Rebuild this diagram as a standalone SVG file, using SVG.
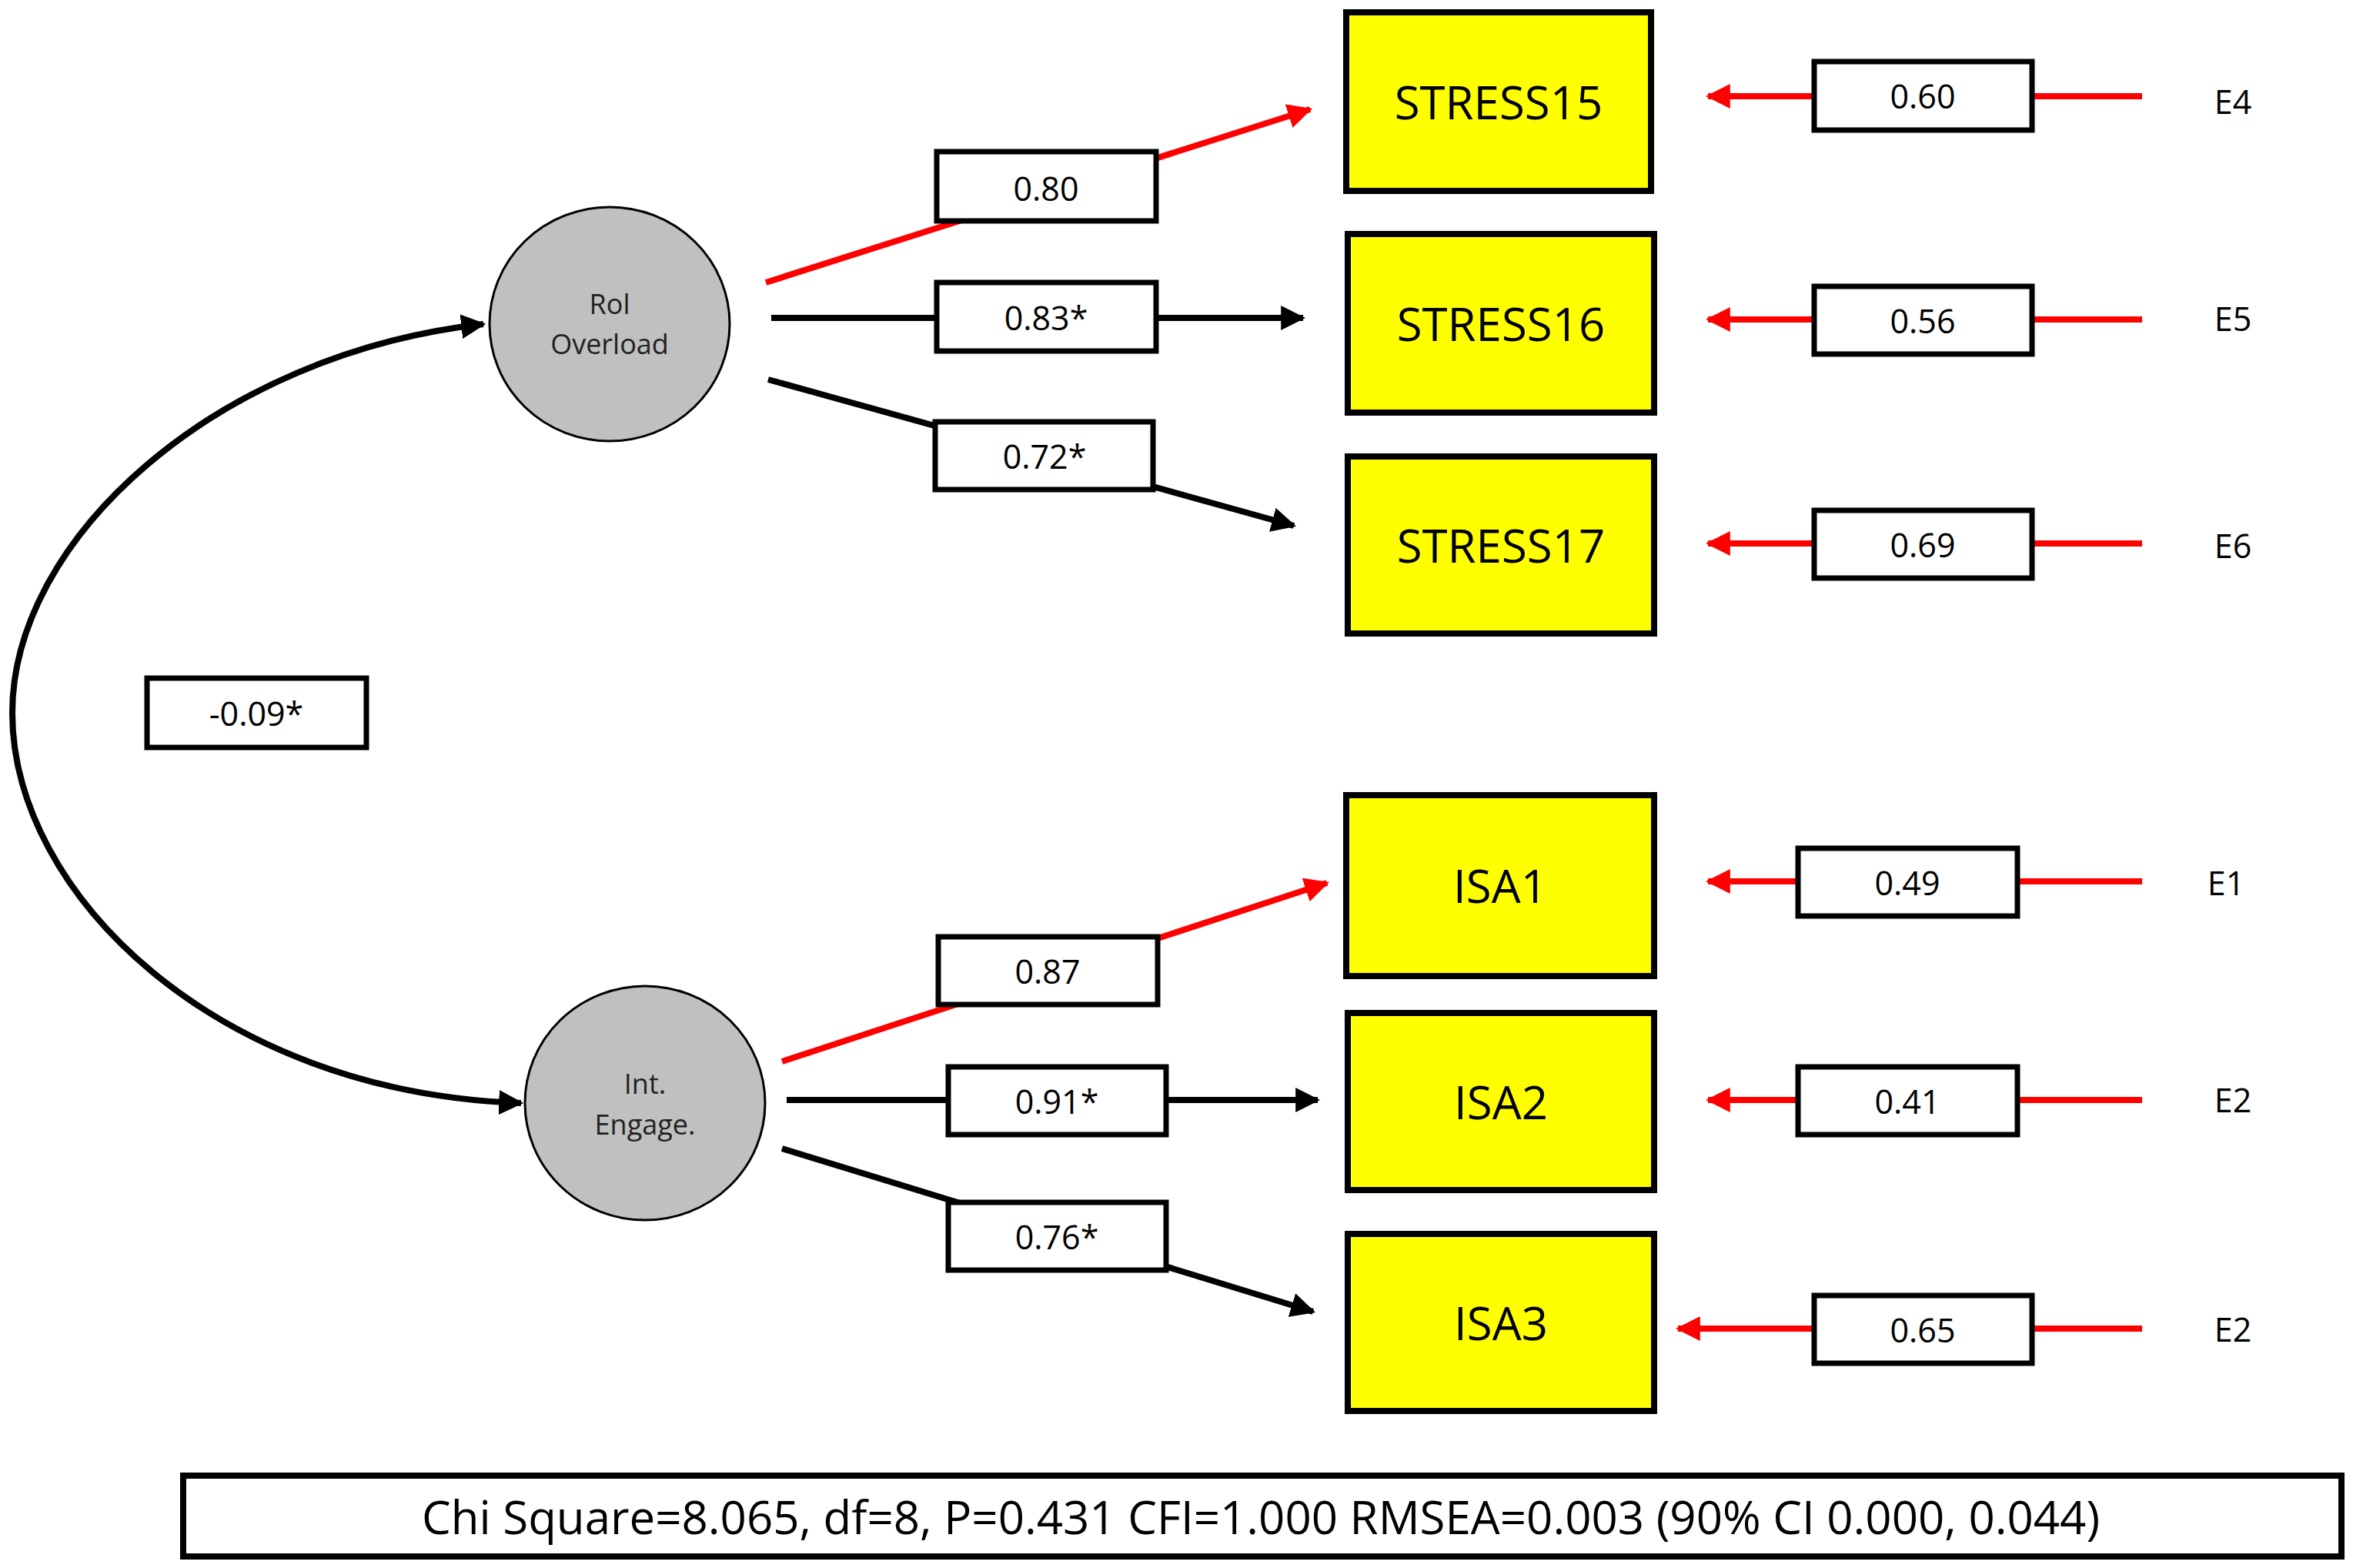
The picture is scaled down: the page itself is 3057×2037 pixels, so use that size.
<svg xmlns="http://www.w3.org/2000/svg" width="3057" height="2037" viewBox="0 0 3057 2037">
<style>
text{font-family:"Open Sans","Liberation Sans",sans-serif;text-anchor:middle;dominant-baseline:central;fill:#000}
.ind rect{fill:#ffff00;stroke:#000;stroke-width:8}
.ind text{font-size:60px}
.lat ellipse{fill:#c0c0c0;stroke:#000;stroke-width:3}
.lat text{font-size:36px;fill:#222}
.lbl rect{fill:#fff;stroke:#000;stroke-width:7}
.lbl text{font-size:43px}
.e text{font-size:43px}
.k{stroke:#000;stroke-width:8;fill:none}
.r{stroke:#ff0000;stroke-width:8;fill:none}
</style>
<defs>
<marker id="ak" viewBox="0 0 10 10" refX="9" refY="5" markerWidth="4" markerHeight="4" orient="auto-start-reverse" markerUnits="strokeWidth"><path d="M0,0L10,5L0,10z" fill="#000"/></marker>
<marker id="ar" viewBox="0 0 10 10" refX="9" refY="5" markerWidth="4" markerHeight="4" orient="auto" markerUnits="strokeWidth"><path d="M0,0L10,5L0,10z" fill="#ff0000"/></marker>
</defs>
<rect width="3057" height="2037" fill="#fff"/>
<g id="connectors">
<path class="k" d="M628,421 C280,460 16,700 16,926 C16,1160 280,1420 677,1433" marker-start="url(#ak)" marker-end="url(#ak)"/>
<line class="r" x1="995" y1="367" x2="1702" y2="142" marker-end="url(#ar)"/>
<line class="k" x1="1002" y1="413" x2="1693" y2="413" marker-end="url(#ak)"/>
<line class="k" x1="998" y1="493" x2="1681" y2="683" marker-end="url(#ak)"/>
<line class="r" x1="1016" y1="1379" x2="1724" y2="1147" marker-end="url(#ar)"/>
<line class="k" x1="1022" y1="1429" x2="1712" y2="1429" marker-end="url(#ak)"/>
<line class="k" x1="1016" y1="1492" x2="1706" y2="1704" marker-end="url(#ak)"/>
<line class="r" x1="2783" y1="125" x2="2219" y2="125" marker-end="url(#ar)"/>
<line class="r" x1="2783" y1="415" x2="2219" y2="415" marker-end="url(#ar)"/>
<line class="r" x1="2783" y1="706" x2="2219" y2="706" marker-end="url(#ar)"/>
<line class="r" x1="2783" y1="1145" x2="2219" y2="1145" marker-end="url(#ar)"/>
<line class="r" x1="2783" y1="1429" x2="2219" y2="1429" marker-end="url(#ar)"/>
<line class="r" x1="2783" y1="1726" x2="2180" y2="1726" marker-end="url(#ar)"/>
</g>
<g id="rol" class="lat"><ellipse cx="792" cy="421" rx="156" ry="152"/><text x="792" y="394">Rol</text><text x="792" y="446">Overload</text></g>
<g id="int" class="lat"><ellipse cx="838" cy="1433" rx="156" ry="152"/><text x="838" y="1407">Int.</text><text x="838" y="1460">Engage.</text></g>
<g id="stress15" class="ind"><rect x="1749" y="16" width="396" height="232"/><text x="1947" y="132">STRESS15</text></g>
<g id="stress16" class="ind"><rect x="1751" y="304" width="398" height="232"/><text x="1950" y="420">STRESS16</text></g>
<g id="stress17" class="ind"><rect x="1751" y="593" width="398" height="230"/><text x="1950" y="708">STRESS17</text></g>
<g id="isa1" class="ind"><rect x="1749" y="1033" width="400" height="235"/><text x="1949" y="1150">ISA1</text></g>
<g id="isa2" class="ind"><rect x="1751" y="1316" width="398" height="230"/><text x="1950" y="1431">ISA2</text></g>
<g id="isa3" class="ind"><rect x="1751" y="1603" width="398" height="230"/><text x="1950" y="1718">ISA3</text></g>
<g id="l080" class="lbl"><rect x="1217" y="197" width="285" height="90"/><text x="1359" y="244">0.80</text></g>
<g id="l083" class="lbl"><rect x="1217" y="367" width="285" height="89"/><text x="1359" y="412">0.83*</text></g>
<g id="l072" class="lbl"><rect x="1215" y="548" width="283" height="88"/><text x="1357" y="592">0.72*</text></g>
<g id="l087" class="lbl"><rect x="1219" y="1217" width="285" height="88"/><text x="1361" y="1261">0.87</text></g>
<g id="l091" class="lbl"><rect x="1232" y="1386" width="283" height="88"/><text x="1373" y="1430">0.91*</text></g>
<g id="l076" class="lbl"><rect x="1232" y="1562" width="283" height="88"/><text x="1373" y="1606">0.76*</text></g>
<g id="lcov" class="lbl"><rect x="191" y="881" width="285" height="90"/><text x="333" y="926">-0.09*</text></g>
<g id="v060" class="lbl"><rect x="2357" y="80" width="283" height="89"/><text x="2498" y="124">0.60</text></g>
<g id="v056" class="lbl"><rect x="2357" y="372" width="283" height="88"/><text x="2498" y="416">0.56</text></g>
<g id="v069" class="lbl"><rect x="2357" y="663" width="283" height="88"/><text x="2498" y="707">0.69</text></g>
<g id="v049" class="lbl"><rect x="2336" y="1102" width="285" height="88"/><text x="2478" y="1146">0.49</text></g>
<g id="v041" class="lbl"><rect x="2336" y="1386" width="285" height="88"/><text x="2478" y="1430">0.41</text></g>
<g id="v065" class="lbl"><rect x="2357" y="1683" width="283" height="88"/><text x="2498" y="1727">0.65</text></g>
<g id="e4" class="e"><text x="2901" y="131">E4</text></g>
<g id="e5" class="e"><text x="2901" y="413">E5</text></g>
<g id="e6" class="e"><text x="2901" y="708">E6</text></g>
<g id="e1" class="e"><text x="2892" y="1146">E1</text></g>
<g id="e2a" class="e"><text x="2901" y="1428">E2</text></g>
<g id="e2b" class="e"><text x="2901" y="1726">E2</text></g>
<g id="fit" class="lbl"><rect x="238" y="1917" width="2804" height="105" style="stroke-width:8"/><text x="1638" y="1970" style="font-size:60px">Chi Square=8.065, df=8, P=0.431 CFI=1.000 RMSEA=0.003 (90% CI 0.000, 0.044)</text></g>
</svg>
